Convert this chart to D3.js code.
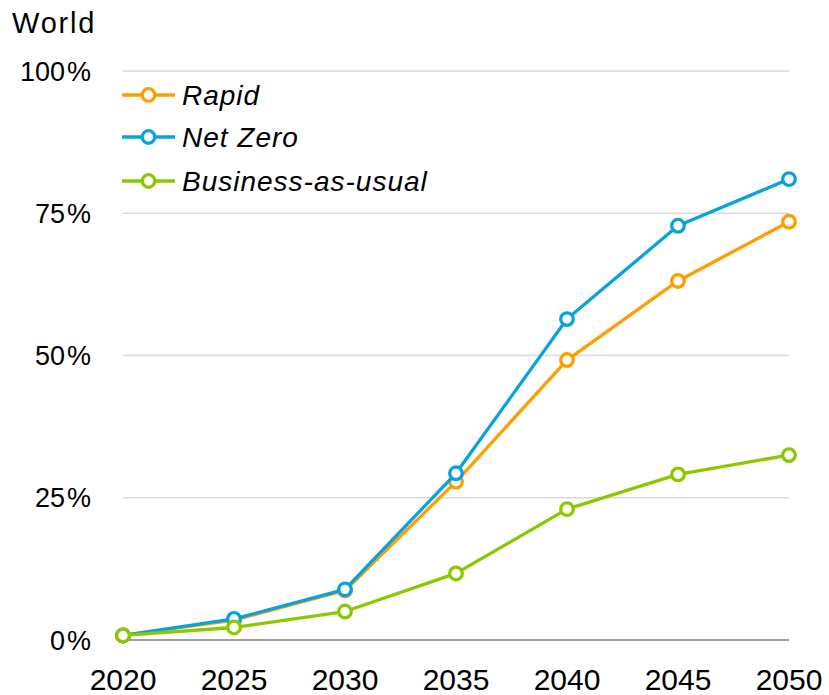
<!DOCTYPE html>
<html>
<head>
<meta charset="utf-8">
<script src="https://cdn.jsdelivr.net/npm/d3@7"></script>
<style>
  html, body { margin: 0; padding: 0; background: #fff; }
  svg { display: block; font-family: "Liberation Sans", Arial, sans-serif; }
</style>
</head>
<body>
<svg id="chart" width="829" height="695"></svg>
<script>
// Share of world total, by scenario (%)
const years = [2020, 2025, 2030, 2035, 2040, 2045, 2050];
const rapid = [0.8, 3.5, 8.7, 27.8, 49.2, 63.1, 73.5];
const netZero = [0.8, 3.7, 8.9, 29.3, 56.4, 72.8, 81.0];
const businessAsUsual = [0.8, 2.2, 5.0, 11.7, 23.0, 29.1, 32.5];

const seriesNames = ["Rapid", "Net Zero", "Business-as-usual"];
const seriesColors = ["#FF9E00", "#0AA2DE", "#8CC800"];
const seriesValues = [rapid, netZero, businessAsUsual];

const yTicks = [0, 25, 50, 75, 100];
const xTicks = [2020, 2025, 2030, 2035, 2040, 2045, 2050];
const regionTitle = "World";

const svg = d3.select("#chart");
const margin = { left: 123, right: 40, top: 71, bottom: 55 };
const W = 829, H = 695;
const markerR = 6.3;
const strokeW = 3.3;

const x = d3.scaleLinear().domain([2020, 2050]).range([margin.left, W - margin.right]);
const y = d3.scaleLinear().domain([0, 100]).range([H - margin.bottom, margin.top]);

// Horizontal gridlines
svg.append("g")
  .selectAll("line")
  .data(yTicks.filter(d => d > 0))
  .join("line")
  .attr("x1", x(2020)).attr("x2", x(2050))
  .attr("y1", d => y(d)).attr("y2", d => y(d))
  .attr("stroke", "#d9d9d9").attr("stroke-width", 1.5);

// Baseline
svg.append("line")
  .attr("x1", x(2020)).attr("x2", x(2050))
  .attr("y1", y(0)).attr("y2", y(0))
  .attr("stroke", "#7f7f7f").attr("stroke-width", 1.5);

// Y tick labels
const yLab = svg.append("g")
  .selectAll("text")
  .data(yTicks)
  .join("text")
  .attr("x", 91)
  .attr("y", d => y(d))
  .attr("dy", "0.36em")
  .attr("text-anchor", "end")
  .attr("font-size", 27)
  .attr("fill", "#000");
yLab.append("tspan").text(d => d);
yLab.append("tspan").attr("dx", 2).text("%");

// X tick labels
svg.append("g")
  .selectAll("text")
  .data(xTicks)
  .join("text")
  .attr("x", d => x(d))
  .attr("y", 690)
  .attr("text-anchor", "middle")
  .attr("font-size", 30)
  .attr("fill", "#000")
  .text(d => d);

// Region title
svg.append("text")
  .attr("x", 12).attr("y", 33)
  .attr("font-size", 29)
  .attr("letter-spacing", 1.8)
  .attr("fill", "#000")
  .text(regionTitle);

// Series lines and markers
const line = d3.line().x((d, i) => x(years[i])).y(d => y(d));
seriesValues.forEach((vals, s) => {
  const g = svg.append("g");
  g.append("path")
    .datum(vals)
    .attr("d", line)
    .attr("fill", "none")
    .attr("stroke", seriesColors[s])
    .attr("stroke-width", strokeW)
    .attr("stroke-linejoin", "round");
  g.selectAll("circle")
    .data(vals)
    .join("circle")
    .attr("cx", (d, i) => x(years[i]))
    .attr("cy", d => y(d))
    .attr("r", markerR)
    .attr("fill", "#fff")
    .attr("stroke", seriesColors[s])
    .attr("stroke-width", strokeW);
});

// Legend
const legendRows = [95, 137, 181];
const legend = svg.append("g");
seriesNames.forEach((name, s) => {
  const ly = legendRows[s];
  legend.append("line")
    .attr("x1", 122).attr("x2", 175)
    .attr("y1", ly).attr("y2", ly)
    .attr("stroke", seriesColors[s]).attr("stroke-width", strokeW);
  legend.append("circle")
    .attr("cx", 148.5).attr("cy", ly).attr("r", markerR)
    .attr("fill", "#fff")
    .attr("stroke", seriesColors[s]).attr("stroke-width", strokeW);
  legend.append("text")
    .attr("x", 182).attr("y", ly)
    .attr("dy", "0.36em")
    .attr("font-size", 28)
    .attr("letter-spacing", 1)
    .attr("font-style", "italic")
    .attr("fill", "#000")
    .text(name);
});
</script>
</body>
</html>
